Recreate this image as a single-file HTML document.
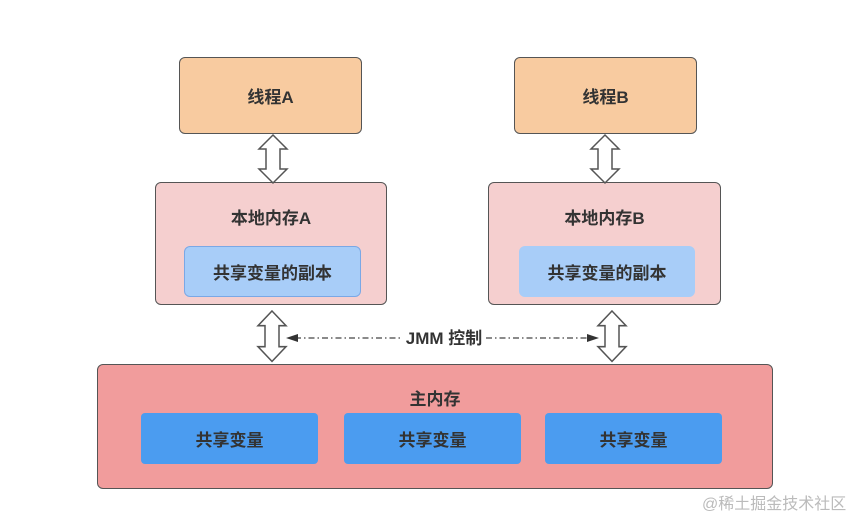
<!DOCTYPE html>
<html><head><meta charset="utf-8"><style>
body{margin:0;width:864px;height:531px;background:#fff;position:relative;overflow:hidden;font-family:"Liberation Sans","Noto Sans CJK SC",sans-serif;color:#333;}
.b{position:absolute;box-sizing:border-box;border:1.5px solid #555;border-radius:6px;display:flex;justify-content:center;font-size:17px;font-weight:bold;}
.c{align-items:center;}
.t{background:#f8cba0;}
.l{background:#f5cfcf;padding-top:21px;}
.i{background:#a8cdf8;border:1.5px solid #7aa8e6;}
.i2{background:#a8cdf8;border:none;}
.m{background:#f19c9c;padding-top:20px;}
.s{background:#4b9cf0;border:none;border-radius:4px;}
svg{position:absolute;left:0;top:0}
</style></head><body>
<div class="b c t" style="left:179px;top:57px;width:183px;height:77px">线程A</div>
<div class="b c t" style="left:514px;top:57px;width:183px;height:77px">线程B</div>
<div class="b l" style="left:155px;top:182px;width:232px;height:123px">本地内存A</div>
<div class="b l" style="left:488px;top:182px;width:233px;height:123px">本地内存B</div>
<div class="b c i" style="left:184px;top:246px;width:177px;height:51px">共享变量的副本</div>
<div class="b c i2" style="left:519px;top:246px;width:176px;height:51px">共享变量的副本</div>
<div class="b m" style="left:97px;top:364px;width:676px;height:125px">主内存</div>
<div class="b c s" style="left:141px;top:413px;width:177px;height:51px">共享变量</div>
<div class="b c s" style="left:344px;top:413px;width:177px;height:51px">共享变量</div>
<div class="b c s" style="left:545px;top:413px;width:177px;height:51px">共享变量</div>
<svg width="864" height="531">
<defs><g id="da"><polygon points="0,0 14,14 7,14 7,34 14,34 0,48 -14,34 -7,34 -7,14 -14,14" fill="#fff" stroke="#555" stroke-width="1.5"/></g></defs>
<use href="#da" transform="translate(273,135)"/>
<use href="#da" transform="translate(605,135)"/>
<use href="#da" transform="translate(272,311) scale(1,1.05)"/>
<use href="#da" transform="translate(612,311) scale(1,1.05)"/>
<line x1="295" y1="338" x2="402" y2="338" stroke="#444" stroke-width="1.2" stroke-dasharray="6,3,1.5,3"/>
<line x1="486" y1="338" x2="590" y2="338" stroke="#444" stroke-width="1.2" stroke-dasharray="6,3,1.5,3"/>
<polygon points="286,338 298,334 298,342" fill="#333"/>
<polygon points="599,338 587,334 587,342" fill="#333"/>
<text x="444" y="344" text-anchor="middle" font-size="17" font-weight="bold" fill="#333" font-family="Liberation Sans,Noto Sans CJK SC,sans-serif">JMM 控制</text>
<text x="702" y="509" font-size="16" fill="#bbb" font-family="Liberation Sans,Noto Sans CJK SC,sans-serif">@稀土掘金技术社区</text>
</svg>
</body></html>
